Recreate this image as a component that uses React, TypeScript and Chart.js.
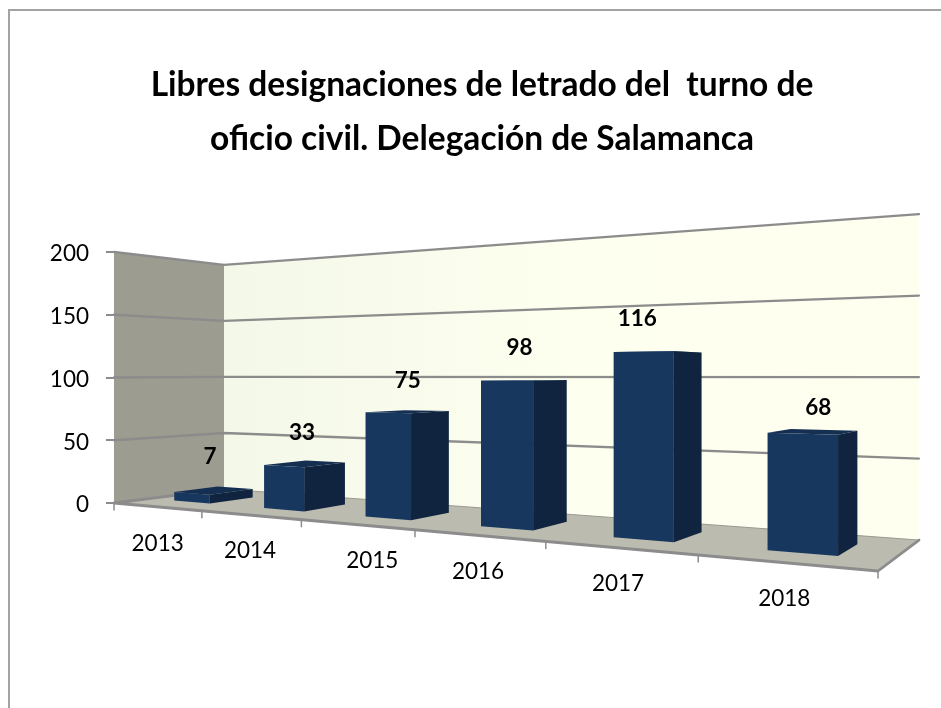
import React, { useEffect, useRef } from "react";
import { Chart, registerables } from "chart.js";

Chart.register(...registerables);

const categories = ["2013", "2014", "2015", "2016", "2017", "2018"];
const values = [7, 33, 75, 98, 116, 68];
const yTicks = [0, 50, 100, 150, 200];
const titleLines = ["Libres designaciones de letrado del  turno de", "oficio civil. Delegación de Salamanca"];

const FONT = "Lato, Carlito, sans-serif";
const GRID = "#8C8C8C";

// Perspective camera: maps (u along categories, v up the value axis, w into the depth) to the page.
const CAM = { g: -0.35, h: 0.12, xu: 456.7, xw: 136.9, yu: -131.85, yw: 44.7 };
const BAR_DEPTH = [0.3, 0.7];
const valueLabelNudge = [[-4, -3], [-3, 0], [0, 0], [-5, -2], [-21, -2], [5, 7]];
const categoryLabelNudge = [[1, 1], [0, 0], [16, 0], [0, 0], [-1, 0], [0, 0]];

function projector(area: any) {
  return (u: number, v: number, w: number): [number, number] => {
    const d = 1 + CAM.g * u + CAM.h * w;
    return [
      (area.left + CAM.xu * u + CAM.xw * w) / d,
      (area.bottom + CAM.yu * u + CAM.yw * w - area.height * v) / d,
    ];
  };
}

function poly(ctx: CanvasRenderingContext2D, pts: [number, number][], fill: any) {
  ctx.beginPath();
  pts.forEach((p, i) => (i ? ctx.lineTo(p[0], p[1]) : ctx.moveTo(p[0], p[1])));
  ctx.closePath();
  ctx.fillStyle = fill;
  ctx.fill();
}

function line(ctx: CanvasRenderingContext2D, pts: [number, number][], color: string, width: number) {
  ctx.beginPath();
  pts.forEach((p, i) => (i ? ctx.lineTo(p[0], p[1]) : ctx.moveTo(p[0], p[1])));
  ctx.strokeStyle = color;
  ctx.lineWidth = width;
  ctx.lineCap = "round";
  ctx.lineJoin = "round";
  ctx.stroke();
}

const framePlugin = {
  id: "frame",
  beforeDraw(chart: any) {
    const { ctx, width, height } = chart;
    ctx.save();
    ctx.fillStyle = "#FFFFFF";
    ctx.fillRect(0, 0, width, height);
    ctx.strokeStyle = "#A3A3A3";
    ctx.lineWidth = 2;
    ctx.strokeRect(9, 10, width + 20, height + 20);
    ctx.restore();
  },
};

const scene3d = {
  id: "scene3d",
  beforeDatasetsDraw(chart: any) {
    const { ctx, chartArea: area, scales } = chart;
    const P = projector(area);
    ctx.save();
    const wallGrad = ctx.createLinearGradient(P(0, 0, 1)[0], 0, P(1, 0, 1)[0], 0);
    wallGrad.addColorStop(0, "#F4F8E8");
    wallGrad.addColorStop(0.5, "#FDFFEF");
    wallGrad.addColorStop(1, "#FFFFF0");
    poly(ctx, [P(0, 0, 1), P(0, 1, 1), P(1, 1, 1), P(1, 0, 1)], wallGrad);
    poly(ctx, [P(0, 0, 0), P(0, 1, 0), P(0, 1, 1), P(0, 0, 1)], "#9C9C90");
    poly(ctx, [P(0, 0, 0), P(1, 0, 0), P(1, 0, 1), P(0, 0, 1)], "#BBBCAF");

    yTicks.forEach((t) => {
      const v = (area.bottom - scales.y.getPixelForValue(t)) / area.height;
      if (t === 0) return;
      line(ctx, [P(0, v, 0), P(0, v, 1), P(1, v, 1)], GRID, 2.3);
    });
    line(ctx, [P(0, 0, 1), P(1, 0, 1)], "#9A9A92", 1);
    line(ctx, [P(0, 0, 1), P(0, 0, 0), P(1, 0, 0), P(1, 0, 1)], GRID, 2.8);

    const n = categories.length;
    for (let i = 0; i <= n; i++) {
      const [x, y] = P(i / n, 0, 0);
      line(ctx, [[x, y], [x, y + 7]], GRID, 1.5);
    }
    ctx.restore();
  },
  beforeDatasetDraw(chart: any, args: any) {
    const { ctx, chartArea: area } = chart;
    const P = projector(area);
    const meta = args.meta;
    const dataset = chart.data.datasets[args.index];
    const [w0, w1] = BAR_DEPTH;
    ctx.save();
    meta.data.forEach((bar: any) => {
      const p = bar.getProps(["x", "y", "width"], true);
      const u0 = (p.x - p.width / 2 - area.left) / area.width;
      const u1 = (p.x + p.width / 2 - area.left) / area.width;
      const v = (area.bottom - p.y) / area.height;
      poly(ctx, [P(u0, v, w0), P(u1, v, w0), P(u1, v, w1), P(u0, v, w1)], dataset.topColor);
      poly(ctx, [P(u1, 0, w0), P(u1, v, w0), P(u1, v, w1), P(u1, 0, w1)], dataset.sideColor);
      poly(ctx, [P(u0, 0, w0), P(u0, v, w0), P(u1, v, w0), P(u1, 0, w0)], dataset.backgroundColor);
    });
    ctx.restore();
    return false;
  },
  afterDatasetsDraw(chart: any) {
    const { ctx, chartArea: area, scales } = chart;
    const P = projector(area);
    const meta = chart.getDatasetMeta(0);
    ctx.save();
    ctx.textAlign = "center";
    ctx.textBaseline = "middle";
    ctx.fillStyle = "#000000";
    meta.data.forEach((bar: any, i: number) => {
      const p = bar.getProps(["x", "y"], true);
      const u = (p.x - area.left) / area.width;
      const v = (area.bottom - p.y) / area.height;
      const top = P(u, v, 0.5);
      ctx.font = `bold 22.5px ${FONT}`;
      ctx.fillText(String(values[i]), top[0] + valueLabelNudge[i][0], top[1] - 31 + valueLabelNudge[i][1]);
      const foot = P(u, 0, 0);
      ctx.font = `22.5px ${FONT}`;
      ctx.fillText(scales.x.getLabelForValue(i), foot[0] + categoryLabelNudge[i][0], foot[1] + 36 + categoryLabelNudge[i][1]);
    });
    ctx.restore();
  },
};

export default function App() {
  const ref = useRef<HTMLCanvasElement>(null);
  useEffect(() => {
    document.body.style.margin = "0";
    const chart = new Chart(ref.current as HTMLCanvasElement, {
      type: "bar",
      data: {
        labels: categories,
        datasets: [
          {
            label: "Libres designaciones",
            data: values,
            backgroundColor: "#17375E",
            sideColor: "#10243F",
            topColor: "#142F52",
            barPercentage: 0.41,
            categoryPercentage: 1,
            yAxisID: "y",
          } as any,
        ],
      },
      options: {
        responsive: false,
        animation: false,
        layout: { padding: { left: 26, right: 3, top: 0, bottom: 205 } },
        plugins: {
          legend: { display: false },
          tooltip: { enabled: false },
          title: {
            display: true,
            text: titleLines,
            color: "#000000",
            font: { family: FONT, size: 33.5, weight: "bold", lineHeight: 54 / 33.5 },
            padding: { top: 58, bottom: 86 },
          },
        },
        scales: {
          x: { display: false },
          y: {
            min: 0,
            max: 200,
            afterFit(scale: any) {
              scale.width = 88;
            },
            afterBuildTicks(scale: any) {
              scale.ticks = yTicks.map((value) => ({ value }));
            },
            border: { display: false },
            grid: { drawOnChartArea: false, drawTicks: true, tickLength: 8, color: GRID, lineWidth: 2 },
            ticks: { color: "#000000", padding: 17, labelOffset: 2, font: { family: FONT, size: 22.5 } },
          },
          // Empty right margin: keeps the title centred where it is while the plot ends earlier.
          margin: {
            position: "right",
            min: 0,
            max: 200,
            afterFit(scale: any) {
              scale.width = 60;
            },
            border: { display: false },
            grid: { display: false },
            ticks: { display: false },
          },
        },
      },
      plugins: [framePlugin, scene3d],
    } as any);
    return () => chart.destroy();
  }, []);
  return <canvas ref={ref} width={941} height={708} style={{ display: "block" }} />;
}
